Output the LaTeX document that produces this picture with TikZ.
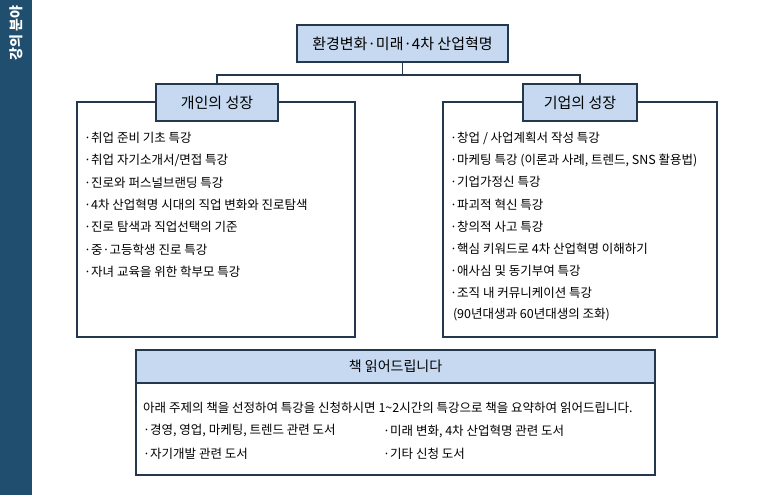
\documentclass[tikz,border=0pt]{standalone}
\usepackage{fontspec}
\setmainfont{Noto Sans CJK KR}
\begin{document}
\begin{tikzpicture}[x=1pt,y=-1pt,
 hdr/.style={draw=edge,line width=1.3pt,fill=hb,font=\fontsize{15}{17}\selectfont,inner sep=0pt},
 frame/.style={draw=edge,line width=1.3pt,fill=white},
 item/.style={anchor=west,inner sep=0pt,font=\fontsize{12.5}{14}\selectfont},
 conn/.style={draw=edge,line width=1.3pt}]
\definecolor{edge}{HTML}{23384D}
\definecolor{hb}{HTML}{C6D9F1}
\definecolor{side}{HTML}{1F4E6E}
\useasboundingbox (0,0) rectangle (773,495);
\fill[side] (0,0) rectangle (32,495);
\node[rotate=90,text=white,font=\bfseries\fontsize{14}{15}\selectfont] (side) at (16,33) {강의 분야};
% top
\node[hdr,minimum width=211,minimum height=37] (top) at (402.5,43.5) {환경변화·미래·4차 산업혁명};
\draw[frame] (77,102) rectangle (355,337);
\draw[frame] (443,102) rectangle (717,337);
\node[hdr,minimum width=122,minimum height=37] (L) at (217,102.5) {개인의 성장};
\node[hdr,minimum width=114,minimum height=37] (R) at (580,102.5) {기업의 성장};
\coordinate (j) at (402.5,75);
\draw[conn] (top.south) -- (j);
\draw[conn] (L.north) |- (j) -| (R.north);
% left items
\foreach \t [count=\i] in {·취업 준비 기초 특강,·취업 자기소개서/면접 특강,·진로와 퍼스널브랜딩 특강,·4차 산업혁명 시대의 직업 변화와 진로탐색,·진로 탐색과 직업선택의 기준,·중·고등학생 진로 특강,·자녀 교육을 위한 학부모 특강}
  \node[item] (l\i) at (84,{138+22.3*(\i-1)}) {\t};
\foreach \t [count=\i] in {·창업 / 사업계획서 작성 특강,{·마케팅 특강 (이론과 사례, 트렌드, SNS 활용법)},·기업가정신 특강,·파괴적 혁신 특강,·창의적 사고 특강,·핵심 키워드로 4차 산업혁명 이해하기,·애사심 및 동기부여 특강,·조직 내 커뮤니케이션 특강,\ (90년대생과 60년대생의 조화)}
  \node[item] (r\i) at (450,{138+22.1*(\i-1)}) {\t};
% bottom
\draw[frame] (136,350) rectangle (655,475);
\draw[draw=edge,line width=1.3pt,fill=hb] (136,350) rectangle (655,383);
\node[font=\fontsize{14}{16}\selectfont] (bt) at (395.5,366.5) {책 읽어드립니다};
\node[item] (b0) at (143,408) {아래 주제의 책을 선정하여 특강을 신청하시면 1\textasciitilde2시간의 특강으로 책을 요약하여 읽어드립니다.};
\node[item] (b1) at (143,431) {·경영, 영업, 마케팅, 트렌드 관련 도서};
\node[item] (b2) at (143,454) {·자기개발 관련 도서};
\node[item] (b3) at (383,431) {·미래 변화, 4차 산업혁명 관련 도서};
\node[item] (b4) at (383,454) {·기타 신청 도서};
\end{tikzpicture}
\end{document}
